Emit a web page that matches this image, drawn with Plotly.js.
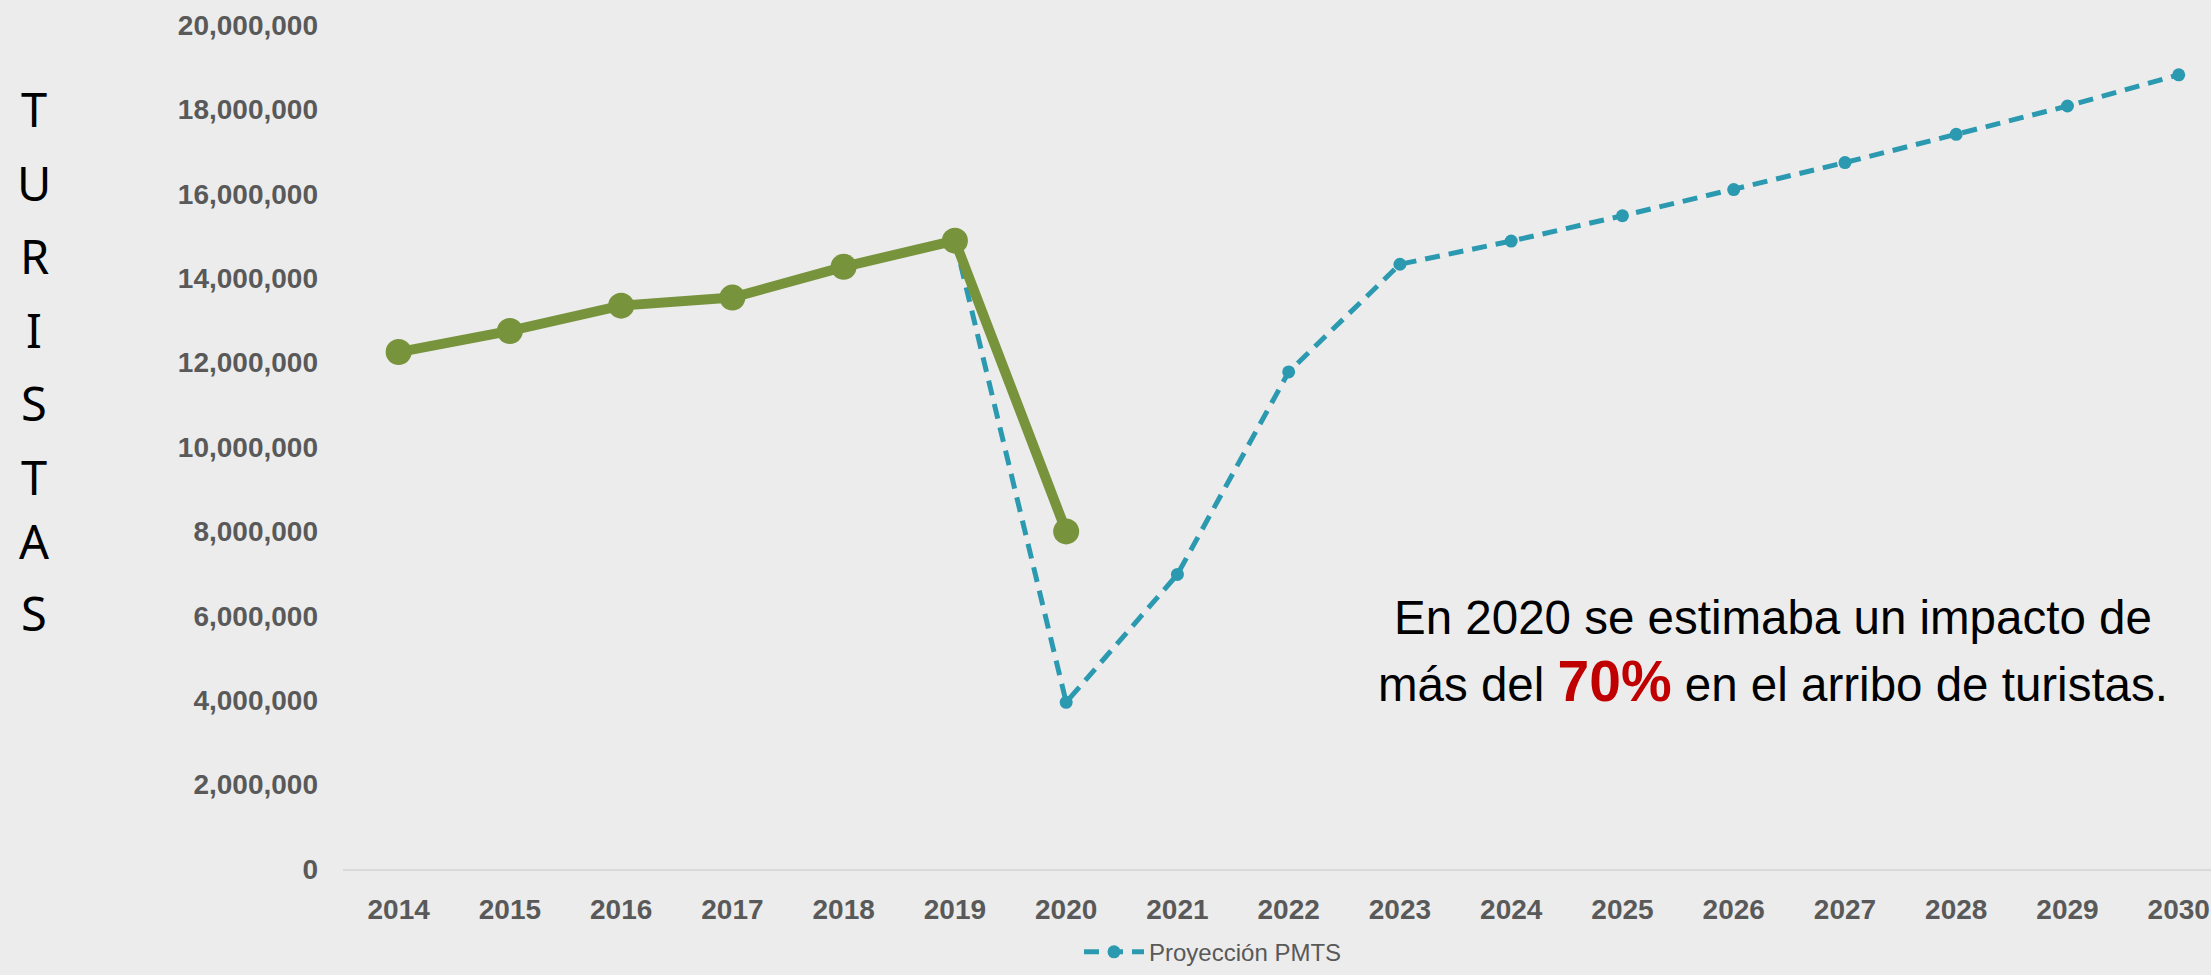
<!DOCTYPE html>
<html>
<head>
<meta charset="utf-8">
<script src="https://cdn.plot.ly/plotly-3.0.1.min.js"></script>
<style>
  html, body { margin: 0; padding: 0; background: #ececec; }
  #chart { width: 2211px; height: 975px; }
</style>
</head>
<body>
<div id="chart"></div>
<script>
// ---- Data ----
const years = ["2014","2015","2016","2017","2018","2019","2020","2021","2022","2023","2024","2025","2026","2027","2028","2029","2030"];

const realYears = ["2014","2015","2016","2017","2018","2019","2020"];
const realValues = [12250000, 12750000, 13350000, 13540000, 14270000, 14890000, 8000000];

const projName = "Proyección PMTS";
const projYears = ["2019","2020","2021","2022","2023","2024","2025","2026","2027","2028","2029","2030"];
const projValues = [14890000, 3950000, 6980000, 11780000, 14330000, 14880000, 15480000, 16100000, 16740000, 17410000, 18080000, 18820000];

const yTitleLetters = "TURISTAS";
const noteLine1 = "En 2020 se estimaba un impacto de";
const notePre = "más del ";
const noteHighlight = "70%";
const notePost = " en el arribo de turistas.";

// ---- Layout helpers (pixel -> paper) ----
const W = 2211, H = 975;
const mL = 343, mR = 0, mT = 25, mB = 98;
const plotW = W - mL - mR, plotH = H - mT - mB;
const px = x => (x - mL) / plotW;
const py = y => (H - mB - y) / plotH;

const letterY = [110, 184, 258, 333, 407, 481, 546, 619];
const letterAnns = yTitleLetters.split("").map((ch, i) => ({
  text: ch, xref: "paper", yref: "paper",
  x: px(34), y: py(letterY[i]), xanchor: "center", yanchor: "middle",
  showarrow: false,
  font: { family: "Noto Sans, Lato, sans-serif", size: 47, color: "#000000" }
}));

const traces = [
  {
    type: "scatter", mode: "lines+markers", name: projName,
    x: projYears, y: projValues,
    line: { color: "#2b9ab0", width: 5, dash: "15px,9px" },
    marker: { color: "#2b9ab0", size: 13 },
    hoverinfo: "skip"
  },
  {
    type: "scatter", mode: "lines+markers", name: "Real",
    x: realYears, y: realValues, showlegend: false,
    line: { color: "#77933c", width: 10 },
    marker: { color: "#77933c", size: 26 },
    hoverinfo: "skip"
  }
];

const layout = {
  width: W, height: H,
  margin: { l: mL, r: mR, t: mT, b: mB, pad: 0 },
  paper_bgcolor: "#ececec",
  plot_bgcolor: "rgba(0,0,0,0)",
  showlegend: true,
  legend: {
    orientation: "h", x: px(1213), y: py(961), xanchor: "center", yanchor: "middle",
    font: { family: "Liberation Sans, Arial, sans-serif", size: 24, color: "#595959" },
    bgcolor: "rgba(0,0,0,0)", itemwidth: 60
  },
  xaxis: {
    type: "category", categoryorder: "array", categoryarray: years,
    range: [-0.5, 16.29],
    showgrid: false, zeroline: false,
    showline: true, linecolor: "#d9d9d9", linewidth: 2,
    ticks: "", ticklabelstandoff: 14,
    tickfont: { family: "Liberation Sans, Arial, sans-serif", size: 28, color: "#595959", weight: "bold" }
  },
  yaxis: {
    range: [0, 20000000], dtick: 2000000, tick0: 0,
    tickformat: ",d",
    showgrid: false, zeroline: false, showline: false,
    ticks: "", ticklabelstandoff: 24,
    tickfont: { family: "Liberation Sans, Arial, sans-serif", size: 28, color: "#595959", weight: "bold" }
  },
  annotations: letterAnns.concat([
    {
      text: noteLine1, xref: "paper", yref: "paper",
      x: px(1773), y: py(623), xanchor: "center", yanchor: "middle",
      showarrow: false,
      font: { family: "Liberation Sans, Arial, sans-serif", size: 47.5, color: "#000000" }
    },
    {
      text: notePre + "<b><span style='color:#c00000;font-size:57px'>" + noteHighlight + "</span></b>" + notePost,
      xref: "paper", yref: "paper",
      x: px(1773), y: py(687), xanchor: "center", yanchor: "middle",
      showarrow: false,
      font: { family: "Liberation Sans, Arial, sans-serif", size: 47.5, color: "#000000" }
    }
  ])
};

Plotly.newPlot("chart", traces, layout, { staticPlot: true, displayModeBar: false });
</script>
</body>
</html>
